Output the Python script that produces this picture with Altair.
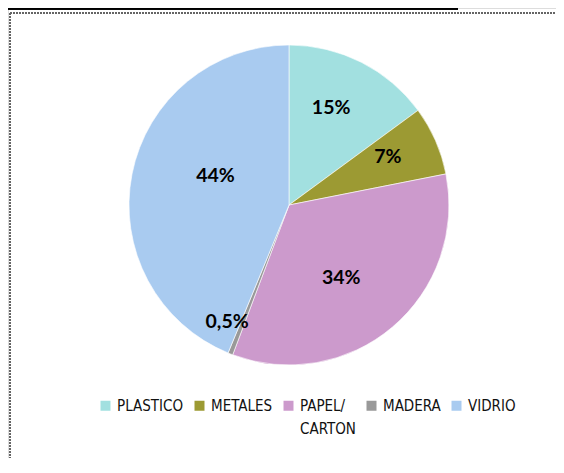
import altair as alt
import pandas as pd

categorias = ["PLASTICO", "METALES", "PAPEL/CARTON", "MADERA", "VIDRIO"]
valores = [15, 7, 34, 0.5, 44]
etiquetas = ["15%", "7%", "34%", "0,5%", "44%"]
colores = ["#A2E0E0", "#9C9A33", "#CC9ACC", "#999999", "#A9CBF0"]

df = pd.DataFrame({
    "categoria": categorias,
    "valor": valores,
    "etiqueta": etiquetas,
    "orden": list(range(len(categorias))),
})

W, H = 548, 450
CX, CY = 281, 197
R = 160
LEG_FONT = "DejaVu Sans Condensed, Lato, sans-serif"

base = alt.Chart(df)

color_enc = alt.Color(
    "categoria:N",
    scale=alt.Scale(domain=categorias, range=colores),
    sort=categorias,
    legend=alt.Legend(
        orient="none",
        direction="horizontal",
        legendX=90,
        legendY=383,
        title=None,
        symbolType="M-1,0.4H1V2.4H-1Z",
        symbolSize=100,
        symbolStrokeWidth=0,
        labelFont=LEG_FONT,
        labelFontSize=15,
        labelColor="#111111",
        labelOffset=4,
        columnPadding=8,
        labelBaseline="top",
        labelExpr="datum.label == 'PAPEL/CARTON' ? ['PAPEL/', 'CARTON'] : [datum.label, ' ']",
    ),
)

pie = base.mark_arc(outerRadius=R, stroke="white", strokeWidth=0.6).encode(
    theta=alt.Theta("valor:Q", stack=True),
    color=color_enc,
    order=alt.Order("orden:Q"),
    x=alt.value(CX),
    y=alt.value(CY),
)

# label placement style per slice (radius, angular nudge), like Excel "best fit"
estilo_etiquetas = {
    "PLASTICO": (106, -0.06),
    "METALES": (110, -0.04),
    "PAPEL/CARTON": (90, 0.084),
    "MADERA": (132, 0.113),
    "VIDRIO": (79, 0.178),
}

text_layers = []
for cat, (rad, toff) in estilo_etiquetas.items():
    text_layers.append(
        base.mark_text(
            radius=rad, thetaOffset=toff, font="Lato", fontSize=19.5,
            fontWeight="bold", color="#000000",
        ).encode(
            theta=alt.Theta("valor:Q", stack=True),
            order=alt.Order("orden:Q"),
            text="etiqueta:N",
            x=alt.value(CX),
            y=alt.value(CY),
            opacity=alt.condition(alt.datum.categoria == cat, alt.value(1), alt.value(0)),
        )
    )

top_black = alt.Chart(df).mark_rule(color="black", strokeWidth=3).encode(
    x=alt.value(0), x2=alt.value(450), y=alt.value(0)
)
frame_top = alt.Chart(df).mark_rule(color="#666666", strokeWidth=1.5, strokeDash=[2, 1]).encode(
    x=alt.value(2), x2=alt.value(W), y=alt.value(5)
)
frame_left = alt.Chart(df).mark_rule(color="#666666", strokeWidth=1.5, strokeDash=[2, 1]).encode(
    x=alt.value(2), y=alt.value(5), y2=alt.value(H)
)

chart = alt.layer(pie, *text_layers, top_black, frame_top, frame_left).properties(
    width=W,
    height=H,
    autosize=alt.AutoSizeParams(type="none"),
    padding=0,
    background="white",
).configure_view(stroke=None).configure(
    style={"guide-label": {"lineHeight": 23}}
)

chart.save("out.html", embed_options={"renderer": "svg", "actions": False})
